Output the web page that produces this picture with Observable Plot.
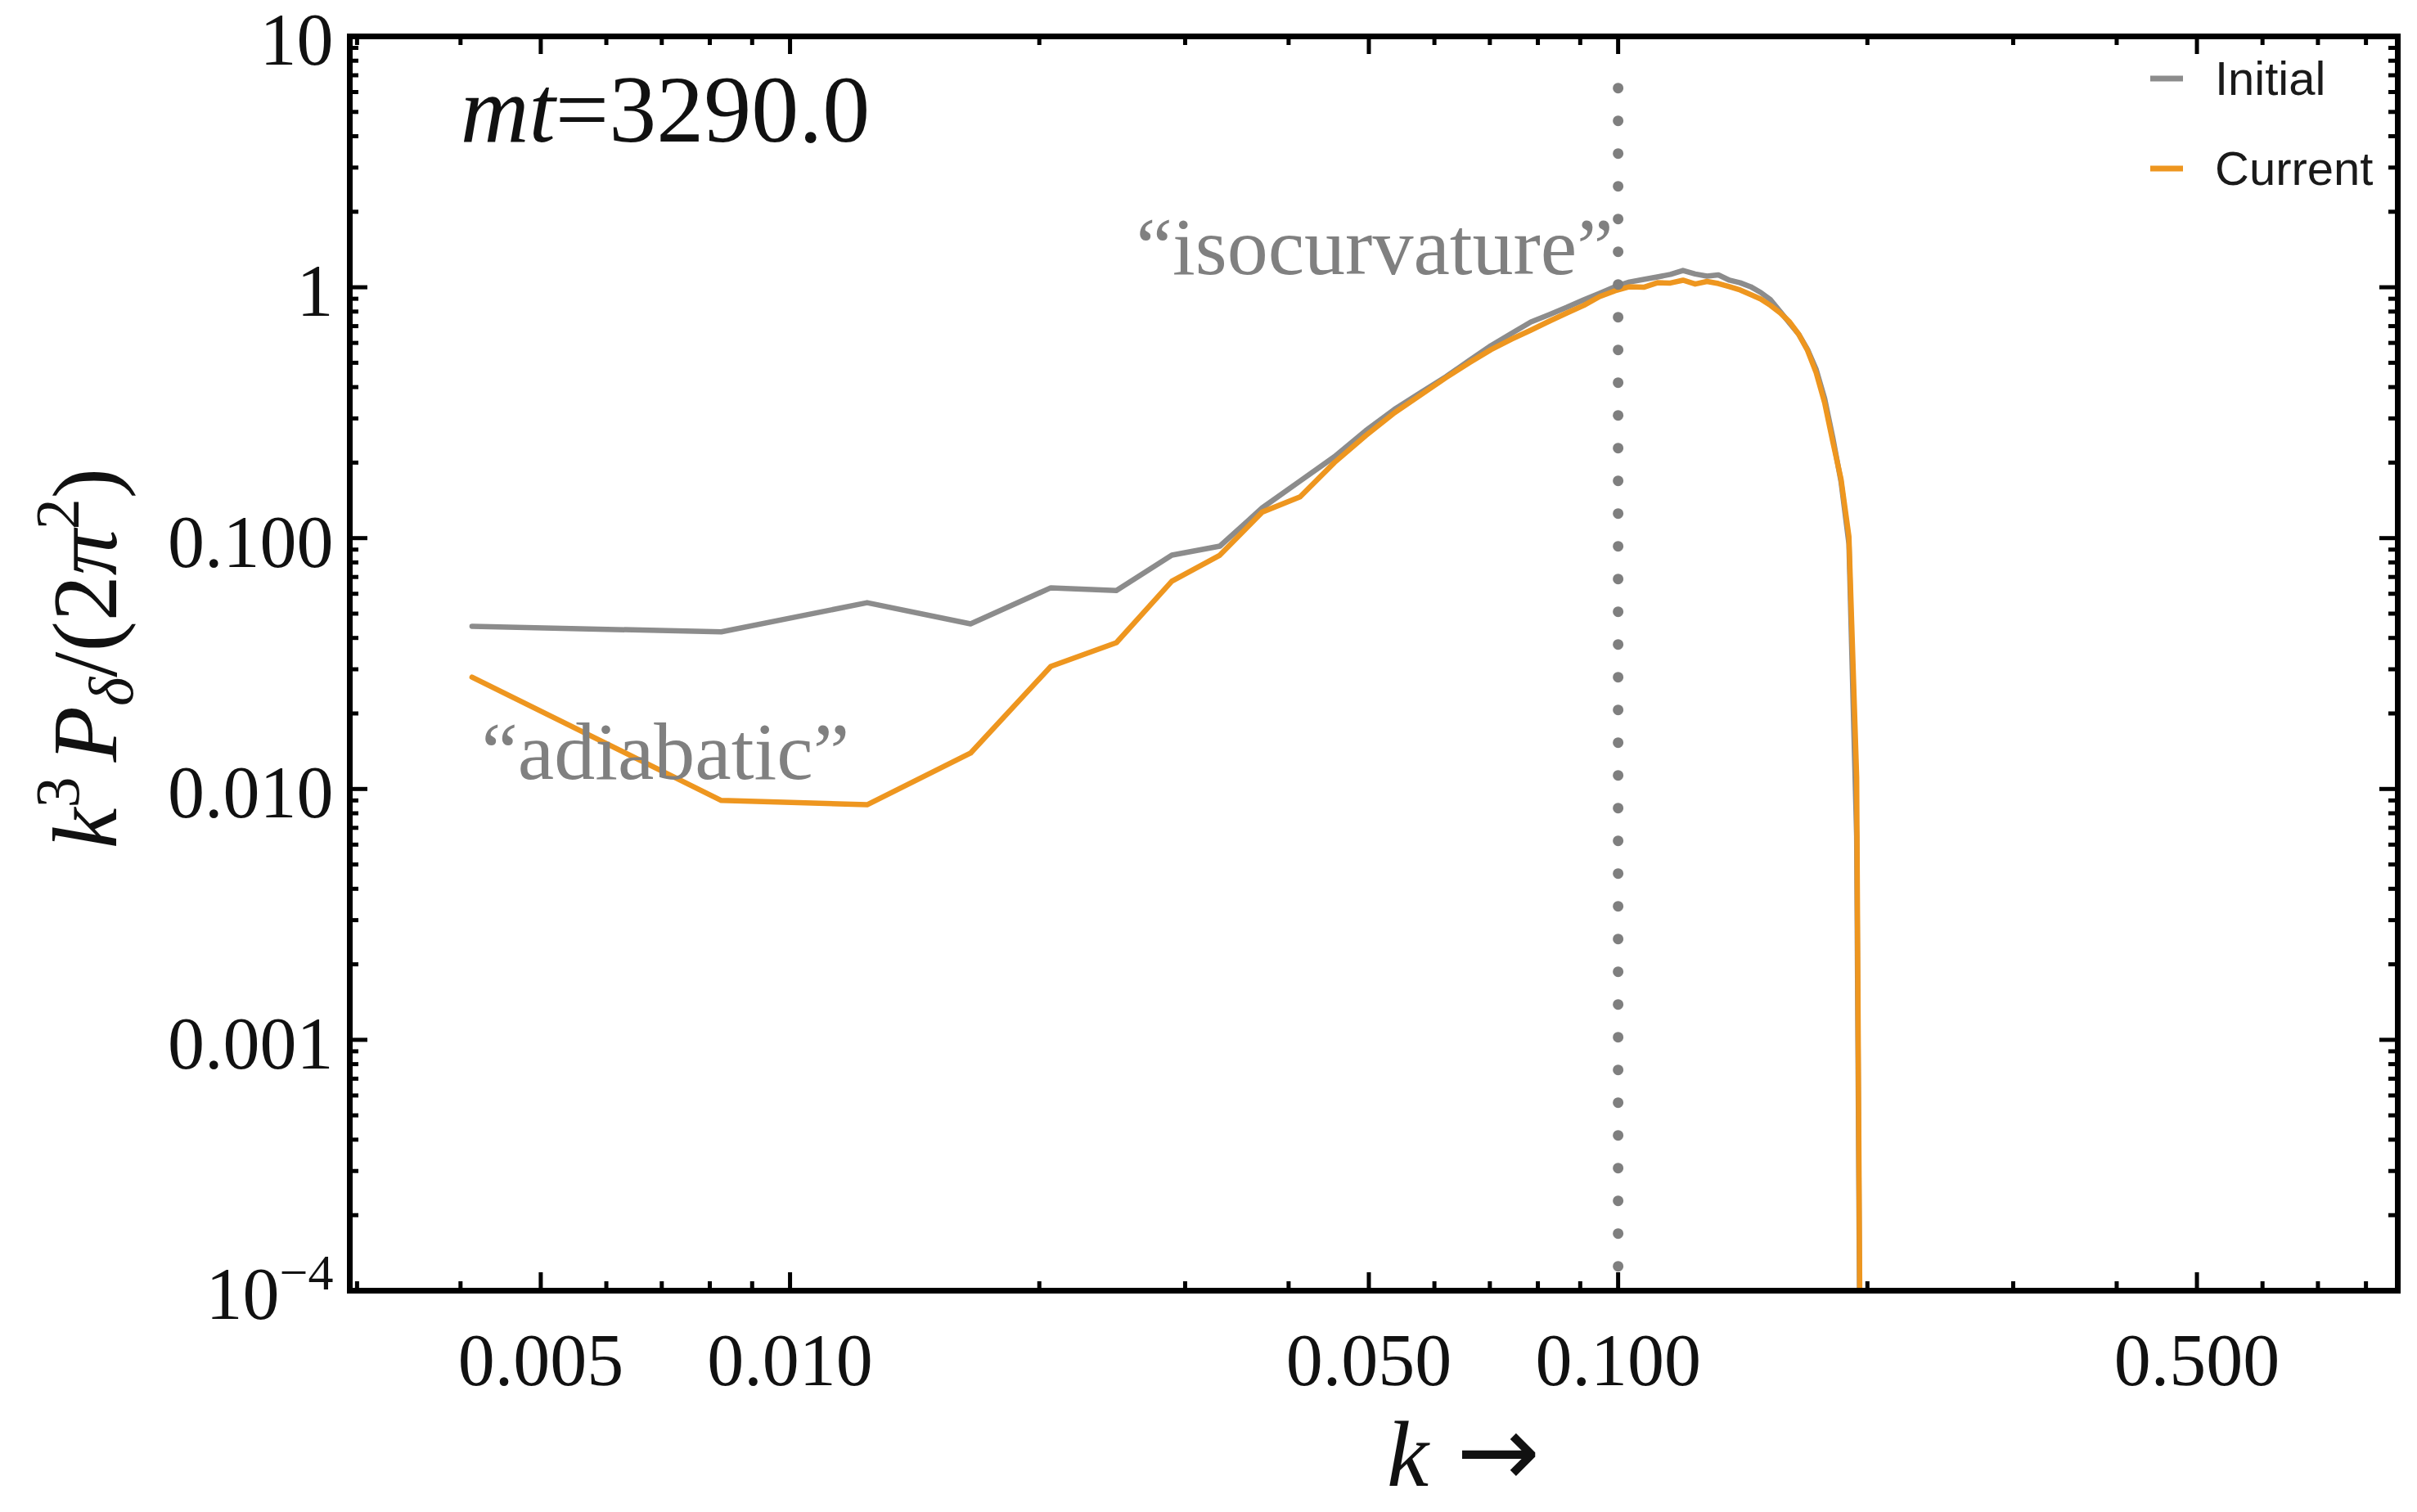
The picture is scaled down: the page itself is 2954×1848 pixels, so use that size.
<!DOCTYPE html>
<html>
<head>
<meta charset="utf-8">
<script src="https://cdn.jsdelivr.net/npm/d3@7"></script>
<script src="https://cdn.jsdelivr.net/npm/@observablehq/plot@0.6"></script>
<style>
  html, body { margin: 0; padding: 0; background: #fff; }
  #chart svg { display: block; }
</style>
</head>
<body>
<div id="chart"></div>
<script>
// ---------------- data ----------------
const k = [0.00413, 0.00826, 0.01239, 0.01652, 0.02065, 0.02478, 0.02891, 0.03304,
  0.03717, 0.0413, 0.04543, 0.04956, 0.05369, 0.05782, 0.06195, 0.06608,
  0.07021, 0.07434, 0.07847, 0.0826, 0.08673, 0.09086, 0.09499, 0.09912,
  0.10325, 0.10738, 0.11151, 0.11564, 0.11977, 0.1239, 0.12803, 0.13216,
  0.13629, 0.14042, 0.14455, 0.14868, 0.15281, 0.15694, 0.16107, 0.1652,
  0.16933, 0.17346, 0.17759, 0.18172, 0.18585, 0.18998, 0.19411, 0.19824];

const initial = [0.0445, 0.0423, 0.0553, 0.0455, 0.0634, 0.0618, 0.0855, 0.0929,
  0.132, 0.169, 0.211, 0.268, 0.326, 0.381, 0.440, 0.510,
  0.585, 0.655, 0.727, 0.778, 0.832, 0.891, 0.946, 1.005,
  1.05, 1.075, 1.099, 1.125, 1.167, 1.13, 1.107, 1.12,
  1.067, 1.042, 1.005, 0.953, 0.891, 0.80, 0.72, 0.65,
  0.565, 0.47, 0.36, 0.25, 0.168, 0.095, 0.0065, 1e-7];

const current = [0.0279, 0.0090, 0.00865, 0.0139, 0.0308, 0.0383, 0.0673, 0.0855,
  0.127, 0.146, 0.200, 0.256, 0.316, 0.373, 0.436, 0.500,
  0.564, 0.621, 0.675, 0.733, 0.790, 0.846, 0.918, 0.968,
  1.005, 1.0, 1.042, 1.04, 1.067, 1.03, 1.055, 1.035,
  1.005, 0.975, 0.935, 0.898, 0.846, 0.790, 0.728, 0.650,
  0.560, 0.456, 0.346, 0.241, 0.172, 0.1016, 0.0111, 1e-7];

const seriesNames = ["Initial", "Current"];
const seriesColors = ["#8c8c8c", "#ee961f"];

const xDomain = [0.00294, 0.874];
const yDomain = [1e-4, 10];

const xMajorTicks = [0.005, 0.01, 0.05, 0.1, 0.5];
const xTickLabels = ["0.005", "0.010", "0.050", "0.100", "0.500"];
const xMinorTicks = [0.003, 0.004, 0.006, 0.007, 0.008, 0.009,
  0.02, 0.03, 0.04, 0.06, 0.07, 0.08, 0.09,
  0.2, 0.3, 0.4, 0.6, 0.7, 0.8];

const yMajorTicks = [1e-4, 0.001, 0.01, 0.1, 1, 10];
const yTickLabels = ["10^-4", "0.001", "0.010", "0.100", "1", "10"];
const yMinorTicks = [2e-4, 3e-4, 4e-4, 5e-4, 6e-4, 7e-4, 8e-4, 9e-4,
  0.002, 0.003, 0.004, 0.005, 0.006, 0.007, 0.008, 0.009,
  0.02, 0.03, 0.04, 0.05, 0.06, 0.07, 0.08, 0.09,
  0.2, 0.3, 0.4, 0.5, 0.6, 0.7, 0.8, 0.9,
  2, 3, 4, 5, 6, 7, 8, 9];

const markerK = 0.1;        // dotted vertical line
const markerTop = 6.2;
const isoNote = {label: "“isocurvature”", x: 0.1, y: 1.125};
const adiNote = {label: "“adiabatic”", x: 0.00424, y: 0.0110};
const timeLabel = {label: "mt=3290.0", x: 0.0040, y: 3.8};

// ---------------- build ----------------
const rows = k.flatMap((kk, i) => [
  {k: kk, p: initial[i], s: seriesNames[0]},
  {k: kk, p: current[i], s: seriesNames[1]}
]);

const W = 2954, H = 1848;
const M = {top: 44, right: 24, bottom: 271, left: 427};
const innerW = W - M.left - M.right;
const innerH = H - M.top - M.bottom;
const majorLen = 22, minorLen = 11;
const tickStyle = {stroke: "#000", strokeWidth: 5};
const serif = "'Liberation Serif', 'DejaVu Serif', serif";

const plot = Plot.plot({
  width: W, height: H,
  marginTop: M.top, marginRight: M.right, marginBottom: M.bottom, marginLeft: M.left,
  x: {type: "log", domain: xDomain, axis: null},
  y: {type: "log", domain: yDomain, axis: null},
  color: {domain: seriesNames, range: seriesColors},
  style: {fontFamily: serif, background: "#fff", color: "#111"},
  marks: [
    Plot.line(rows, {x: "k", y: "p", z: "s", stroke: "s", strokeWidth: 6.5,
      strokeLinejoin: "round", strokeLinecap: "round", clip: true}),
    Plot.ruleX([markerK], {y1: markerTop, y2: yDomain[0], stroke: "#7f7f7f",
      strokeWidth: 13, strokeLinecap: "round", strokeDasharray: "0 40"}),
    Plot.text([isoNote], {x: "x", y: "y", text: "label", textAnchor: "end",
      lineAnchor: "bottom", fill: "#808080", fontSize: 100, dx: -6}),
    Plot.text([adiNote], {x: "x", y: "y", text: "label", textAnchor: "start",
      lineAnchor: "bottom", fill: "#808080", fontSize: 100}),
    Plot.text([timeLabel], {x: "x", y: "y", text: "label", textAnchor: "start",
      lineAnchor: "bottom", fill: "#111", fontSize: 116}),
    // inward ticks on all four sides
    Plot.ruleX(xMajorTicks, {insetTop: innerH - majorLen, ...tickStyle}),
    Plot.ruleX(xMajorTicks, {insetBottom: innerH - majorLen, ...tickStyle}),
    Plot.ruleX(xMinorTicks, {insetTop: innerH - minorLen, ...tickStyle}),
    Plot.ruleX(xMinorTicks, {insetBottom: innerH - minorLen, ...tickStyle}),
    Plot.ruleY(yMajorTicks, {insetRight: innerW - majorLen, ...tickStyle}),
    Plot.ruleY(yMajorTicks, {insetLeft: innerW - majorLen, ...tickStyle}),
    Plot.ruleY(yMinorTicks, {insetRight: innerW - minorLen, ...tickStyle}),
    Plot.ruleY(yMinorTicks, {insetLeft: innerW - minorLen, ...tickStyle}),
    Plot.frame({stroke: "#000", strokeWidth: 7}),
    // tick labels
    Plot.text(xMajorTicks, {x: d => d, text: (d, i) => xTickLabels[i], frameAnchor: "bottom",
      lineAnchor: "top", dy: 52, fontSize: 90, fill: "#111"}),
    Plot.text(yMajorTicks, {y: d => d, text: (d, i) => yTickLabels[i], frameAnchor: "left",
      textAnchor: "end", dx: -20, dy: 6, fontSize: 90, fill: "#111"})
  ]
});

// ---------------- rich text (italics, super/subscripts) ----------------
const SVGNS = "http://www.w3.org/2000/svg";
function rich(el, parts) {
  el.textContent = "";
  for (const p of parts) {
    const ts = document.createElementNS(SVGNS, "tspan");
    ts.textContent = p.t;
    if (p.italic) ts.setAttribute("font-style", "italic");
    if (p.size) ts.setAttribute("font-size", p.size);
    if (p.family) ts.setAttribute("font-family", p.family);
    if (p.dy) ts.setAttribute("dy", p.dy);
    if (p.dx) ts.setAttribute("dx", p.dx);
    el.appendChild(ts);
  }
}
d3.select(plot).selectAll("text").each(function () {
  const t = this.textContent;
  if (t === "10^-4") rich(this, [{t: "10"}, {t: "−4", size: 62, dy: -36}]);
  else if (t === "mt=3290.0") rich(this, [{t: "mt", italic: true}, {t: "=3290.0"}]);
});

const svg = d3.select(plot);
// x-axis label
const xl = svg.append("text")
  .attr("x", 1695).attr("y", 1816)
  .attr("text-anchor", "start")
  .attr("font-family", serif).attr("font-size", 115).attr("fill", "#111");
rich(xl.node(), [
  {t: "k", italic: true},
  {t: "→", family: "'DejaVu Sans', sans-serif", size: 122, dx: 34}
]);

// y-axis label
const yl = svg.append("text")
  .attr("transform", `translate(142, ${M.top + innerH / 2 - 6}) rotate(-90)`)
  .attr("text-anchor", "middle")
  .attr("font-family", serif).attr("font-size", 112).attr("fill", "#111");
rich(yl.node(), [
  {t: "k", italic: true},
  {t: "3", size: 76, dy: -46},
  {t: "P", italic: true, dy: 46, dx: 18},
  {t: "δ", italic: true, size: 76, dy: 20},
  {t: "/(2", dy: -20},
  {t: "π", italic: true},
  {t: "2", size: 76, dy: -46},
  {t: ")", dy: 46}
]);

// legend
const leg = svg.append("g")
  .attr("font-family", "'Liberation Sans', Arial, sans-serif")
  .attr("font-size", 58)
  .attr("text-anchor", "start");
seriesNames.forEach((name, i) => {
  const yy = 96 + i * 110;
  leg.append("line").attr("x1", 2628).attr("x2", 2668).attr("y1", yy).attr("y2", yy)
    .attr("stroke", seriesColors[i]).attr("stroke-width", 7);
  leg.append("text").attr("x", 2707).attr("y", yy + 20).attr("fill", "#1a1a1a").text(name);
});

document.getElementById("chart").appendChild(plot);
</script>
</body>
</html>
